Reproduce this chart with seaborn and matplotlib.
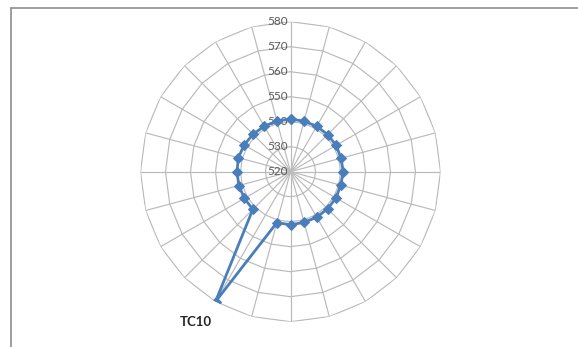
import numpy as np
import pandas as pd
import seaborn as sns
import matplotlib
matplotlib.use("Agg")
import matplotlib.pyplot as plt
from matplotlib.lines import Line2D
from matplotlib.transforms import offset_copy

# ---- data ----
categories = ["TC20", "TC21", "TC22", "TC23", "TC24", "TC1", "TC2", "TC3", "TC4", "TC5",
              "TC6", "TC7", "TC8", "TC9", "TC10", "TC11", "TC12", "TC13", "TC14", "TC15",
              "TC16", "TC17", "TC18", "TC19"]
values = [541.1, 540.9, 541.0, 541.0, 541.1, 540.9, 541.1, 540.8, 541.0, 541.0,
          541.0, 541.0, 541.2, 541.1, 580.0, 541.3, 541.3, 541.4, 541.4, 541.6,
          541.4, 541.2, 541.0, 541.0]
ring_ticks = [520, 530, 540, 550, 560, 570, 580]
highlight = "TC10"

sns.set_theme(style="white")
plt.rcParams['font.family'] = ['Lato', 'DejaVu Sans']

W, H = 578, 347
fig = plt.figure(figsize=(W / 100, H / 100), dpi=100)
fig.patch.set_facecolor("white")

cx, cy, R = 290.5, 171.7, 150.0
ax = fig.add_axes([(cx - R) / W, (H - cy - R) / H, 2 * R / W, 2 * R / H], projection="polar")
ax.set_theta_zero_location("N")
ax.set_theta_direction(-1)
ax.grid(False)
ax.spines["polar"].set_visible(False)
ax.patch.set_alpha(0)

n = len(categories)
theta = np.arange(n) * 2 * np.pi / n

grid_col = "#bababa"
tt = np.append(theta, theta[0])
for v in ring_ticks[1:]:
    ax.plot(tt, [v] * (n + 1), color=grid_col, lw=0.85, zorder=1)
for t in theta:
    ax.plot([t, t], [ring_ticks[0], ring_ticks[-1]], color=grid_col, lw=0.85, zorder=1)

tr = offset_copy(ax.transData, fig=fig, x=-3, y=0, units="dots")
for v in ring_ticks:
    ax.text(0, v, str(v), ha="right", va="center", fontsize=8.5, color="#595959",
            transform=tr, zorder=3)

df = pd.DataFrame({"category": categories + [categories[0]],
                   "theta": np.append(theta, theta[0]),
                   "value": values + [values[0]]})
sns.lineplot(data=df, x="theta", y="value", ax=ax, sort=False, color="#4a7ebb",
             lw=2.0, marker="D", markersize=5, markeredgecolor="#4a7ebb",
             zorder=4, estimator=None)
ax.set_xlabel("")
ax.set_ylabel("")
ax.set_ylim(ring_ticks[0], ring_ticks[-1])
ax.set_xticks([])
ax.set_yticks([])

i = categories.index(highlight)
ax.annotate(highlight, xy=(theta[i], values[i]), xytext=(-14, -15), textcoords="offset points",
            ha="center", va="center", fontsize=9.5, fontweight="bold", color="#262626",
            annotation_clip=False)

fig.add_artist(Line2D([10.5 / W, 1.0], [1 - 8 / H, 1 - 8 / H], color="#8c8c8c", lw=1.2))
fig.add_artist(Line2D([10.5 / W, 10.5 / W], [0, 1 - 8 / H], color="#8c8c8c", lw=1.2))

fig.savefig("out.png", dpi=100, facecolor="white")
